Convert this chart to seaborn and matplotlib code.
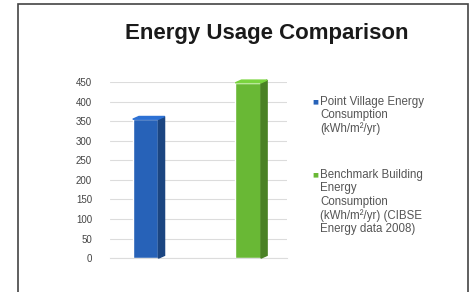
import seaborn as sns
import matplotlib.pyplot as plt
import matplotlib.colors as mcolors
from matplotlib.patches import Polygon, Rectangle
import pandas as pd


categories = ['Point Village Energy\nConsumption\n(kWh/m²/yr)',
              'Benchmark Building\nEnergy\nConsumption\n(kWh/m²/yr) (CIBSE\nEnergy data 2008)']
values = [355, 448]
colors = ['#2762b8', '#69b835']
yticks = [0, 50, 100, 150, 200, 250, 300, 350, 400, 450]

df = pd.DataFrame({'series': categories, 'value': values})

sns.set_style('white')
plt.rcParams['font.family'] = ['Liberation Sans', 'DejaVu Sans']

fig = plt.figure(figsize=(4.73, 2.92), dpi=100)
ax = fig.add_axes([0.233, 0.116, 0.374, 0.603])

sns.barplot(data=df, x='series', y='value', hue='series', palette=colors,
            width=0.25, dodge=False, legend=False, saturation=1, ax=ax)

# fake 3D: side and top faces built from each bar's geometry
dx, dy = 0.06, 7
for p, c in zip(ax.patches, colors):
    x0, y0 = p.get_x(), p.get_y()
    x1, y1 = x0 + p.get_width(), y0 + p.get_height()
    dark = [v * 0.7 for v in mcolors.to_rgb(c)]
    light = [min(1, v * 1.15) for v in mcolors.to_rgb(c)]
    ax.add_patch(Polygon([(x1, y0), (x1 + dx, y0 + dy), (x1 + dx, y1 + dy), (x1, y1)],
                         closed=True, color=dark, zorder=3, clip_on=False))
    ax.add_patch(Polygon([(x0, y1), (x1, y1), (x1 + dx, y1 + dy), (x0 + dx, y1 + dy)],
                         closed=True, color=light, zorder=3, clip_on=False))
    p.set_clip_on(False)

ax.set_xlim(-0.345, 1.38)
ax.set_ylim(0, 450)
ax.set_yticks(yticks)
ax.set_yticklabels([str(t) for t in yticks], fontsize=7, color='#444444')
ax.set_xticks([])
ax.set_xlabel('')
ax.set_ylabel('')
ax.yaxis.grid(True, color='#dcdcdc', linewidth=0.8)
ax.set_axisbelow(True)
ax.tick_params(axis='y', length=0, pad=13)
for s in ['top', 'right', 'left']:
    ax.spines[s].set_visible(False)
ax.spines['bottom'].set_color('#dcdcdc')

fig.text(0.565, 0.885, 'Energy Usage Comparison', ha='center', va='center',
         fontsize=16, fontweight='bold', color='#1a1a1a')

# legend
legend_y = [0.665, 0.415]
for lab, c, yy in zip(categories, colors, legend_y):
    fig.text(0.66, yy - 0.006, '■', color=c, fontsize=4.5, ha='left', va='top',
             family='DejaVu Sans')
    fig.text(0.677, yy + 0.005, lab, color='#555555', fontsize=8.3, ha='left',
             va='top', linespacing=1.12)

fig.patches.append(Rectangle((0.038, -0.1), 0.952, 1.086, transform=fig.transFigure,
                             fill=False, edgecolor='#444444', linewidth=1.2))

fig.savefig('out.png', dpi=100)
